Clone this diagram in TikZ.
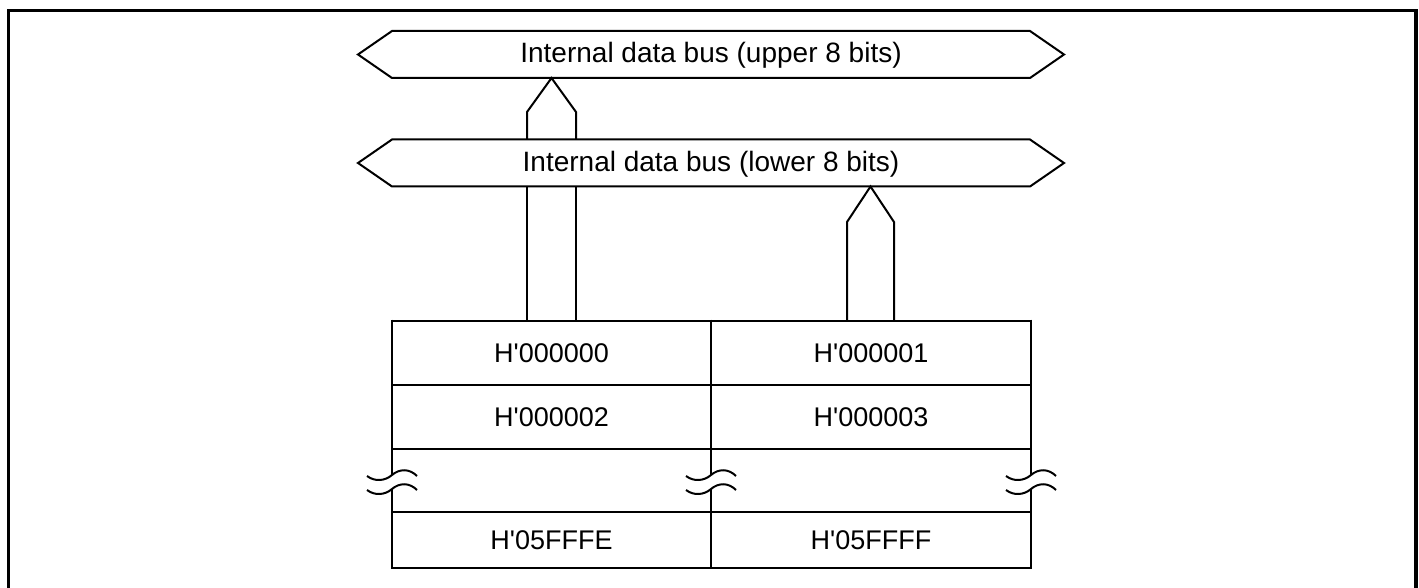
\documentclass[tikz,border=0pt]{standalone}
\usepackage{fontspec}
\setmainfont{Liberation Sans}
\begin{document}
\begin{tikzpicture}[x=1pt,y=-1pt,
  busline/.style={line width=2pt,line join=miter},
  tabline/.style={line width=2.8pt},
  arrline/.style={line width=2pt,line join=miter},
  lbl/.style={font=\fontsize{27}{30}\selectfont,inner sep=0pt},
  buslbl/.style={font=\fontsize{28}{31}\selectfont,inner sep=0pt},
  wave/.style={line width=2pt}]
\useasboundingbox (0,0) rectangle (1419,588);
% frame
\draw[line width=3.5pt] (8.5,600) -- (8.5,10.5) -- (1416,10.5) -- (1416,600);
% buses
\draw[busline] (358,54.5) -- (392,31) -- (1030,31) -- (1064,54.5) -- (1030,78) -- (392,78) -- cycle;
\node[buslbl] (ubus) at (711,55) {Internal data bus (upper 8 bits)};
\draw[busline] (358,163) -- (392,139.5) -- (1030,139.5) -- (1064,163) -- (1030,186.5) -- (392,186.5) -- cycle;
\node[buslbl] (lbus) at (711,164) {Internal data bus (lower 8 bits)};
% table
\node[lbl] (c00) at (551.5,353) {H\textquotesingle 000000};
\node[lbl] (c01) at (871,353) {H\textquotesingle 000001};
\node[lbl] (c02) at (551.5,417) {H\textquotesingle 000002};
\node[lbl] (c03) at (871,417) {H\textquotesingle 000003};
\node[lbl] (cfe) at (551.5,540) {H\textquotesingle 05FFFE};
\node[lbl] (cff) at (871,540) {H\textquotesingle 05FFFF};
\draw[tabline] (392,321) -- (1031,321);
\draw[tabline] (392,385) -- (1031,385);
\draw[tabline] (392,449) -- (1031,449);
\draw[tabline] (392,512) -- (1031,512);
\draw[tabline] (392,568) -- (1031,568);
\foreach \x in {392,711,1031}{
  \draw[tabline] (\x,319.6) -- (\x,475);
  \draw[tabline] (\x,489) -- (\x,569.4);
  \foreach \y in {475,489}{
    \draw[wave] (\x-25,\y+1) .. controls (\x-17,\y+7) and (\x-7,\y+6) .. (\x,\y) .. controls (\x+7,\y-6) and (\x+17,\y-7) .. (\x+25,\y+1);
  }
}
% arrows
\draw[arrline] (527,321) -- (527,186.5);
\draw[arrline] (576,321) -- (576,186.5);
\draw[arrline] (527,139.5) -- (527,112) -- (551.5,78) -- (576,112) -- (576,139.5);
\draw[arrline] (847,321) -- (847,222) -- (870.5,186.5) -- (894,222) -- (894,321);
\end{tikzpicture}
\end{document}
